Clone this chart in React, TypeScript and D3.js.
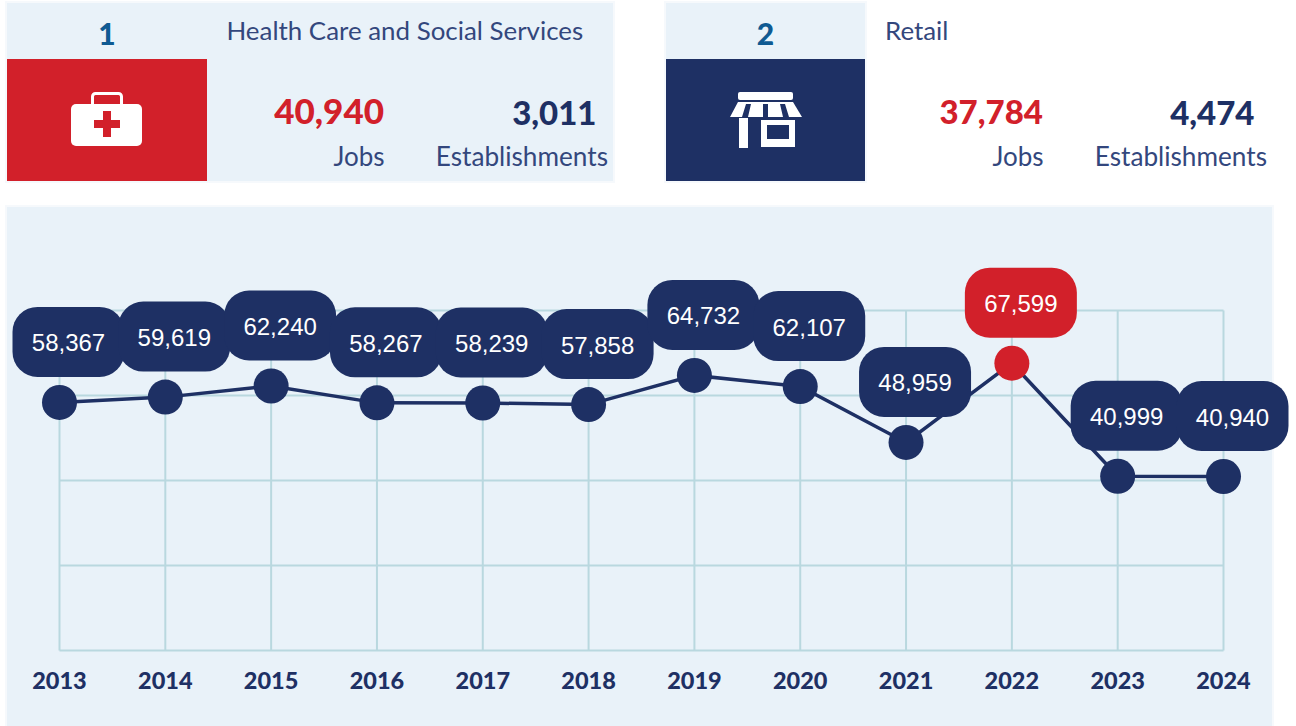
import React from "react";
import * as d3 from "d3";

const years = ["2013","2014","2015","2016","2017","2018","2019","2020","2021","2022","2023","2024"];
const jobs = [58367,59619,62240,58267,58239,57858,64732,62107,48959,67599,40999,40940];
const gridValues = [0,20000,40000,60000,80000];
const peakYear = "2022";

const NAVY = "#1e3064";
const RED = "#d2202a";
const PANEL = "#e9f2f9";
const GRID = "#b9d8df";
const SANS = "Lato, 'Open Sans', sans-serif";
const LABEL = "'Liberation Sans', Arial, sans-serif";

const x = d3.scalePoint<string>().domain(years).range([59.5, 1223.5]);
const y = d3.scaleLinear().domain([0, 80000]).range([650.5, 310.5]);
const line = d3.line<number>().x((_, i) => x(years[i])!).y((d) => y(d));
const fmt = d3.format(",");

function Card({ left, width, iconFill, rank, title, jobsText, estText, jobsRight, estRight, estLabelRight, children, panelWidth, jobsSize }: any) {
  return (
    <g>
      <rect x={left - 2} y={1} width={panelWidth + 4} height={182} fill="#f6f9fc" />
      <rect x={left} y={3} width={panelWidth} height={178} fill={PANEL} />
      <rect x={left} y={59} width={width} height={122} fill={iconFill} />
      <text x={left + width / 2} y={45} textAnchor="middle" fontFamily={SANS} fontWeight={900} fontSize={30} fill="#0f5a92">{rank}</text>
      {children}
      <text x={left + (title === "Retail" ? 219 : 219.5)} y={40} fontFamily={SANS} fontSize={25.9} fill="#33477d">{title}</text>
      <text x={jobsRight} y={124} textAnchor="end" fontFamily={SANS} fontWeight={900} fontSize={jobsSize} fill={RED}>{jobsText}</text>
      <text x={estRight + 0.5} y={125} textAnchor="end" fontFamily={SANS} fontWeight={900} fontSize={33} fill={NAVY}>{estText}</text>
      <text x={jobsRight + 0.5} y={166} textAnchor="end" fontFamily={SANS} fontSize={26} fill="#33477d">Jobs</text>
      <text x={estLabelRight} y={166} textAnchor="end" fontFamily={SANS} fontSize={26.2} fill="#33477d">Establishments</text>
    </g>
  );
}

export default function App() {
  return (
    <svg width={1296} height={726} style={{ position: "absolute", left: 0, top: 0, background: "#fff" }}>
      <Card left={7} width={200} panelWidth={606} iconFill={RED} rank="1" title="Health Care and Social Services"
        jobsText="40,940" estText="3,011" jobsRight={384} estRight={596} estLabelRight={608} jobsSize={35}>
        <rect x={92.5} y={93.5} width={29} height={16} rx={3} fill="none" stroke="#fff" strokeWidth={3} />
        <rect x={71} y={104} width={71} height={42} rx={5} fill="#fff" />
        <rect x={94} y={120} width={26} height={8} fill={RED} />
        <rect x={103} y={111} width={8} height={26} fill={RED} />
      </Card>
      <Card left={666} width={199} panelWidth={199} iconFill={NAVY} rank="2" title="Retail"
        jobsText="37,784" estText="4,474" jobsRight={1043} estRight={1254} estLabelRight={1267} jobsSize={33}>
        <rect x={738} y={92} width={55} height={8} rx={2} fill="#fff" />
        <path d="M738 102H793L802 117H730Z" fill="#fff" />
        <path d="M746 104h5l-3 13h-6zM763 104h5v13h-5zM780 104h5l4 13h-6z" fill={NAVY} />
        <rect x={739} y={118} width={9} height={30} fill="#fff" />
        <rect x={761} y={120} width={34} height={27} fill="#fff" />
        <rect x={767} y={125} width={22} height={14} fill={NAVY} />
      </Card>

      <rect x={5} y={205} width={1269} height={521} fill="#f6f9fc" />
      <rect x={7} y={207} width={1265} height={519} fill={PANEL} />

      {gridValues.map((v) => (
        <line key={v} x1={x(years[0])} x2={x(years[years.length - 1])} y1={y(v)} y2={y(v)} stroke={GRID} strokeWidth={2} />
      ))}
      {years.map((yr) => (
        <line key={yr} x1={x(yr)} x2={x(yr)} y1={y(80000)} y2={y(0)} stroke={GRID} strokeWidth={2} />
      ))}

      <path d={line(jobs)!} fill="none" stroke={NAVY} strokeWidth={3.5} />

      {jobs.map((v, i) => (
        <circle key={years[i]} cx={x(years[i])} cy={y(v)} r={17.5} fill={years[i] === peakYear ? RED : NAVY} />
      ))}
      {jobs.map((v, i) => {
        const fill = years[i] === peakYear ? RED : NAVY;
        const cx = x(years[i])! + 9;
        const cy = y(v) - 60.5;
        return (
          <g key={years[i]}>
            <rect x={cx - 56} y={cy - 35} width={112} height={70} rx={25} fill={fill} />
            <text x={cx} y={cy + 9.5} textAnchor="middle" fontFamily={LABEL} fontSize={24} fill="#fff">{fmt(v)}</text>
          </g>
        );
      })}

      {years.map((yr) => (
        <text key={yr} x={x(yr)} y={688.5} textAnchor="middle" fontFamily={SANS} fontWeight={900} fontSize={23.5} fill={NAVY}>{yr}</text>
      ))}
    </svg>
  );
}
